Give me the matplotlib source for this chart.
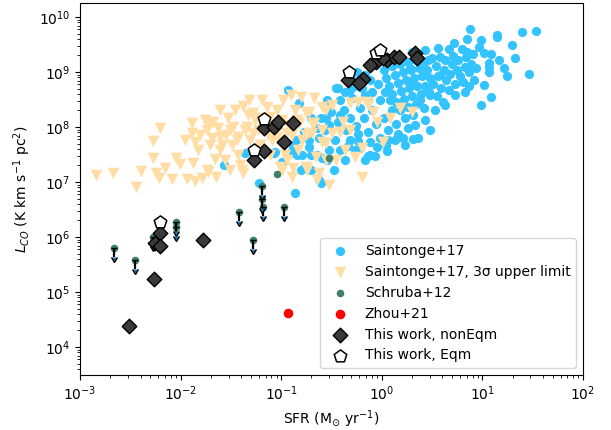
import numpy as np
import matplotlib
matplotlib.use("Agg")
import matplotlib.pyplot as plt

# values, stored as log10(SFR), log10(L_CO)

# Saintonge+17 detections
sai_logsfr = [
    0.88, 1.53, 1.39, 1.15, 1.15, 0.85, 1.30, 0.97, 0.56, 0.67, 0.80, 0.85, 0.91,
    1.02, 1.09, 0.71, 0.84, 0.58, 0.46, 1.07, 1.07, 0.89, 0.94, 0.83, 0.75, 1.25,
    1.46, 1.07, 0.87, 1.09, 0.99, 0.61, 0.48, 0.38, 0.36, 0.31, 0.21,
    0.02, 0.10, 0.18, 0.26, 0.34, 0.42, 0.50, 0.63, 0.70, 0.76,
    0.04, 0.13, 0.21, 0.29, 0.37, 0.45, 0.54, 0.62, 0.68, 0.78,
    0.07, 0.16, 0.24, 0.32, 0.40, 0.48, 0.56, 0.64, 0.73, 0.81,
    0.10, 0.19, 0.27, 0.35, 0.43, 0.51, 0.59, 0.67,
    0.14, 0.22, 0.30, 0.39, 0.47, 0.55,
    0.18, 0.26, 0.34, 0.42, 0.23, 0.31, 0.10, 0.02, 0.14, 0.06, 0.16, 0.26,
    -0.02, -0.10, -0.04, -0.14, -0.22, -0.10, -0.18, -0.06, -0.26, -0.14, -0.02,
    -0.32, -0.38, -0.30, -0.42, -0.36, -0.24, -0.44, -0.50, -0.56, -0.46, -0.34,
    -0.22, -0.12, -0.60, -0.52,
    -0.25, -0.44, 0.28, -0.12, -0.20, -0.32,
    -0.93, -0.82, -0.45, -0.54, -0.70, -0.64, -0.77, -0.55, -0.72, -0.85, -0.72,
    -0.88, -0.79, -0.70, -0.64, -0.59, -0.54, -0.47, -0.70, -0.80, -0.62, -0.60,
    -0.77, -0.99, -1.06, -0.91, -0.84, -0.32, -0.24, -0.14, -0.07, -0.05, 0.05,
    0.04, -0.42, -0.12, -0.86, -1.22, -1.36, -1.57, -1.07,
    -0.37, -0.27, -0.17, 0.03, 0.13, 0.23, 0.33, 0.43, 0.53, 0.63, 0.73, 0.83,
    0.92, 1.02, 1.17, 1.22, 1.32, 0.99, 0.72, 0.43, 0.30, 0.16, -0.07, -0.17,
    -0.30, -0.42, -0.52, -0.62, -0.27, -0.17, -0.37, 0.08, 0.06, 0.48, 0.28,
    0.87, 0.58,
]
sai_loglco = [
    9.78, 9.75, 9.73, 9.67, 9.64, 9.60, 9.49, 9.45, 9.44, 9.42, 9.42, 9.36, 9.33,
    9.35, 9.33, 9.29, 9.27, 9.27, 9.22, 9.16, 9.09, 9.15, 9.07, 9.09, 9.04, 8.93,
    8.96, 9.00, 8.75, 8.55, 8.40, 8.45, 8.58, 8.49, 7.80, 7.78, 7.80,
    9.04, 9.11, 9.15, 9.18, 9.22, 9.18, 9.25, 9.22, 9.15, 9.22,
    8.89, 8.95, 9.00, 9.04, 9.07, 9.04, 9.11, 9.04, 8.96, 8.93,
    8.75, 8.80, 8.85, 8.89, 8.93, 8.89, 8.93, 8.85, 8.78, 8.82,
    8.60, 8.65, 8.71, 8.75, 8.75, 8.78, 8.71, 8.67,
    8.45, 8.51, 8.56, 8.60, 8.64, 8.56,
    8.31, 8.36, 8.42, 8.35, 8.16, 8.22, 8.31, 8.16, 8.05, 7.95, 7.87, 7.98,
    8.49, 8.64, 8.78, 8.49, 8.35, 8.31, 8.16, 8.05, 8.02, 7.91, 7.80,
    8.16, 8.31, 8.53, 8.49, 7.95, 7.87, 8.09, 8.27, 7.95, 7.76, 7.65,
    7.62, 7.73, 8.16, 7.58,
    9.00, 8.71, 9.07, 8.85, 8.71, 8.67,
    8.67, 8.44, 8.71, 8.49, 8.16, 7.98, 7.91, 8.16, 7.76, 7.76, 7.64,
    7.64, 7.49, 7.49, 7.49, 7.44, 7.40, 7.22, 7.22, 7.22, 7.04, 6.98,
    7.25, 7.36, 7.55, 7.53, 7.49, 7.76, 7.75, 7.47, 7.47, 7.64, 7.56,
    7.67, 7.58, 7.49, 6.80, 6.98, 7.53, 7.31, 7.53,
    8.64, 8.75, 8.58, 8.64, 7.76, 7.67, 8.04, 8.13, 8.31, 8.40, 8.58, 8.64,
    8.85, 8.76, 9.22, 9.07, 9.25, 9.58, 9.53, 9.40, 9.36, 9.25, 9.13, 8.95,
    8.85, 8.22, 8.04, 7.80, 7.58, 7.40, 7.40, 8.49, 7.76, 7.95, 8.82,
    9.00, 8.95,
]

# Saintonge+17 3-sigma upper limits
lim_logsfr = [
    -2.84, -2.67, -2.44, -2.39, -2.27, -2.20, -2.27, -2.24, -2.21, -2.16, -2.09,
    -2.05, -2.01, -1.88, -1.94, -1.86, -1.79, -1.73, -1.65, -1.66, -1.89, -1.89,
    -1.86, -1.81, -1.76, -1.74, -1.71, -1.69, -1.63, -1.59, -1.55, -1.61, -1.71,
    -1.43, -1.41, -1.38, -1.48, -1.38, -1.34, -1.28, -1.44, -1.51, -1.36, -1.28,
    -1.14, -1.04, -0.98, -0.90, -0.80, -0.67, -0.59, -1.11, -0.94, -0.99, -0.88,
    -0.75, -0.64, -0.52, -0.65, -0.79, -0.69, -0.55, -0.49, -0.82, -0.94, -1.04,
    -1.61, -1.43, -0.72, -0.75, -0.67, -0.59, -1.39, -1.74, -0.96, -1.01, -0.89,
    -0.74, -0.62, -0.55, -1.09, -1.21, -0.55, -0.49, -0.32, -0.24, -0.15, -0.09,
    0.08, 0.18, 0.30, -0.05, -0.39, -0.42, -0.32, -0.69, -0.75, -0.72, -0.59,
    0.01, -0.37, -0.27, -0.20, -0.45, -0.20, -0.14, -1.32, -1.21, -1.16, -1.06,
    -1.26, -1.19, -0.86, -0.84, -0.93, -1.53, -1.46, -1.31, -1.23,
    -1.96, -1.83, -1.56, -1.49, -1.33, -1.23, -1.13, -0.99, -0.89, -0.83, -1.11,
    -1.51, -1.61, -1.68,
]
lim_loglco = [
    7.13, 7.16, 6.91, 7.20, 7.75, 7.98, 7.44, 7.16, 7.07, 7.25, 7.05,
    7.44, 7.33, 7.35, 7.05, 7.02, 7.07, 7.18, 7.09, 7.42, 8.07, 7.89,
    7.73, 7.85, 8.13, 7.95, 8.05, 7.80, 7.98, 7.67, 7.85, 7.58, 7.67,
    7.49, 7.31, 7.16, 8.00, 8.38, 8.00, 7.89, 7.76, 7.95, 7.95, 8.25,
    8.36, 8.31, 8.49, 8.58, 8.55, 8.53, 8.36, 8.18, 7.40, 7.22, 7.25,
    7.27, 7.04, 6.95, 7.45, 7.76, 7.89, 7.71, 7.89, 8.07, 7.89, 7.82,
    7.82, 7.82, 8.27, 7.85, 8.07, 7.95, 7.22, 7.22, 7.49, 7.27, 7.09,
    7.22, 7.16, 7.40, 7.76, 7.67, 8.31, 8.40, 8.44, 8.45, 8.45, 8.27,
    8.16, 8.35, 8.27, 8.09, 8.09, 7.91, 7.95, 8.07, 8.27, 7.89, 7.73,
    7.73, 7.58, 7.45, 7.62, 7.40, 7.09, 8.40, 8.49, 8.16, 8.04, 8.04,
    8.13, 8.49, 8.31, 8.13, 8.04, 8.16, 8.31, 7.76, 7.58,
    7.76, 7.58, 7.40, 7.67, 8.22, 7.95, 7.85, 8.13, 7.85, 7.58, 7.49,
    7.22, 8.31, 8.09,
]

# Schruba+12 (uplim = 1 -> upper limit with arrow)
sch_sfr = [2.16e-3, 3.49e-3, 5.27e-3, 9.1e-3, 9.1e-3, 3.78e-2, 5.2e-2, 6.5e-2,
           6.5e-2, 6.6e-2, 0.106, 9.0e-2, 0.30]
sch_lco = [6.3e5, 3.8e5, 1.0e6, 1.87e6, 1.5e6, 2.85e6, 8.8e5, 8.5e6,
           4.9e6, 3.5e6, 3.5e6, 1.4e7, 2.7e7]
sch_uplim = [1, 1, 1, 1, 1, 1, 1, 1, 1, 1, 1, 0, 0]

# Zhou+21
zhou_sfr = [0.116]
zhou_lco = [4.1e4]

# this work, non-equilibrium
neq_sfr = [3.04e-3, 5.4e-3, 6.2e-3, 5.6e-3, 6.3e-3, 1.66e-2, 6.7e-2, 8.4e-2,
           9.2e-2, 0.13, 0.106, 5.4e-2, 6.7e-2, 0.457, 0.644, 0.60, 0.867,
           1.12, 1.31, 1.50, 2.12, 2.22, 0.757, 1.02]
neq_lco = [2.41e4, 1.72e5, 1.18e6, 7.8e5, 6.9e5, 8.8e5, 9.6e7, 1.0e8,
           1.23e8, 1.18e8, 5.3e7, 2.5e7, 3.7e7, 7.2e8, 7.5e8, 6.3e8, 1.52e9,
           1.65e9, 1.87e9, 1.87e9, 2.2e9, 1.8e9, 1.34e9, 1.8e9]

# this work, equilibrium
eq_sfr = [6.2e-3, 5.4e-2, 6.8e-2, 0.468, 0.867, 0.97]
eq_lco = [1.87e6, 3.8e7, 1.4e8, 1.0e9, 2.2e9, 2.5e9]

fig = plt.figure(figsize=(6.11, 4.30), dpi=100)
ax = fig.add_axes([0.131, 0.128, 0.823, 0.865])

ax.scatter(10**np.array(sai_logsfr), 10**np.array(sai_loglco), s=44,
           marker='o', color='#33c4ff', lw=0, label='Saintonge+17', zorder=2)
ax.scatter(10**np.array(lim_logsfr), 10**np.array(lim_loglco), s=70,
           marker='v', color='#ffdda4', lw=0,
           label='Saintonge+17, 3σ upper limit', zorder=3)

sch_sfr = np.array(sch_sfr)
sch_lco = np.array(sch_lco)
up = np.array(sch_uplim) == 1
ax.scatter(sch_sfr, sch_lco, s=30, marker='o', color='#3f8069', lw=0,
           label='Schruba+12', zorder=4)
ax.errorbar(sch_sfr[up], sch_lco[up], yerr=0.31 * sch_lco[up], uplims=True,
            fmt='none', ecolor='k', elinewidth=1.6, capsize=2.2, zorder=5)

ax.scatter(zhou_sfr, zhou_lco, s=48, marker='o', color='red', lw=0,
           label='Zhou+21', zorder=6)
ax.scatter(neq_sfr, neq_lco, s=55, marker='D', facecolor='#3a3a3a',
           edgecolor='k', lw=1, label='This work, nonEqm', zorder=7)
ax.scatter(eq_sfr, eq_lco, s=90, marker='p', facecolor='white',
           edgecolor='k', lw=1.1, label='This work, Eqm', zorder=8)

ax.set_xscale('log')
ax.set_yscale('log')
ax.set_xlim(1e-3, 1e2)
ax.set_ylim(3.1e3, 1.8e10)
ax.set_xlabel(r'SFR (M$_{\odot}$ yr$^{-1}$)')
ax.set_ylabel(r'$L_{CO}$ (K km s$^{-1}$ pc$^{2}$)')
ax.legend(loc='lower right')

fig.savefig('out.png', dpi=100)
